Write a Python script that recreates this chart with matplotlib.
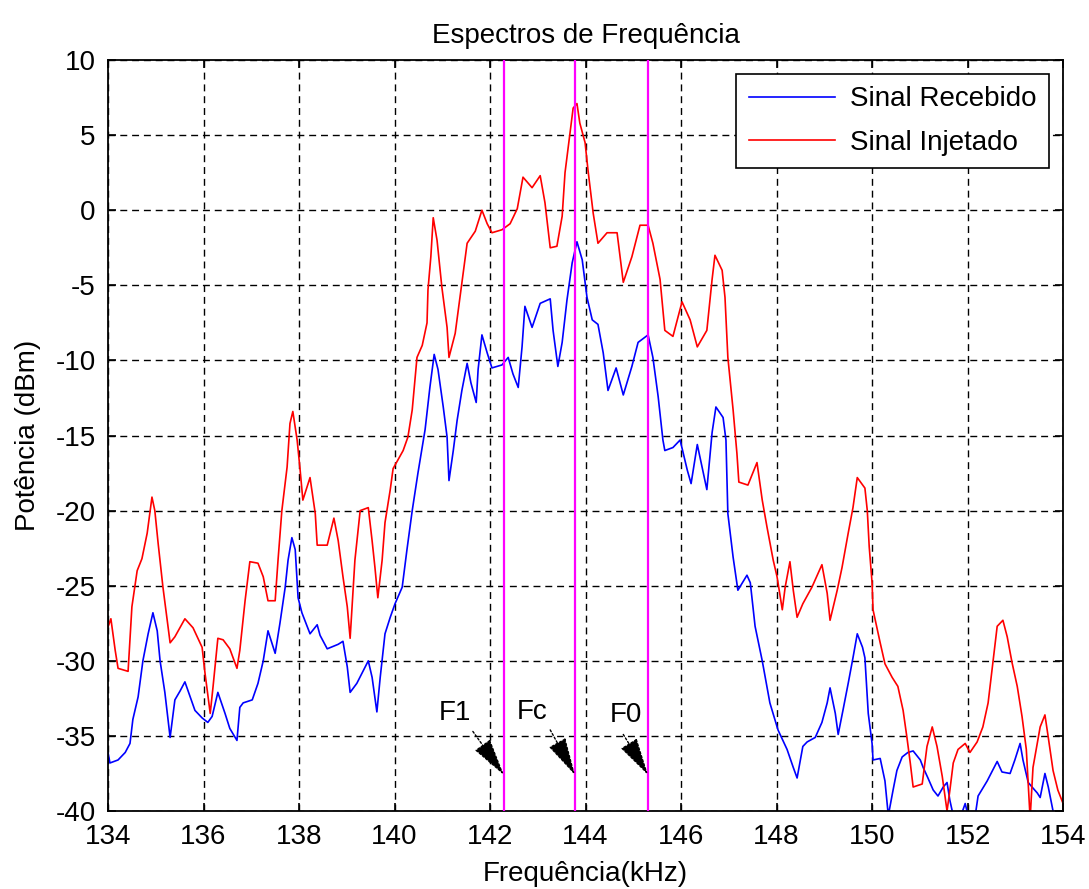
import matplotlib
matplotlib.use("Agg")
import matplotlib.pyplot as plt

plt.rcParams['font.family'] = ['Liberation Sans', 'DejaVu Sans']
plt.rcParams['axes.unicode_minus'] = False

# Received signal spectrum (kHz, dBm)
freq_rx = [134.00, 134.04, 134.21, 134.36, 134.46, 134.52, 134.63, 134.73, 134.84, 134.94,
           135.03, 135.09, 135.19, 135.30, 135.40, 135.51, 135.61, 135.72, 135.82, 135.97,
           136.09, 136.18, 136.30, 136.45, 136.55, 136.70, 136.76, 136.83, 137.02, 137.14,
           137.25, 137.35, 137.43, 137.50, 137.60, 137.71, 137.77, 137.85, 137.92, 137.98,
           138.06, 138.23, 138.38, 138.44, 138.59, 138.82, 138.92, 139.01, 139.07, 139.21,
           139.45, 139.53, 139.63, 139.70, 139.80, 139.91, 140.01, 140.16, 140.26, 140.37,
           140.49, 140.64, 140.74, 140.83, 140.91, 141.02, 141.10, 141.14, 141.23, 141.31,
           141.41, 141.52, 141.60, 141.71, 141.75, 141.83, 141.94, 142.04, 142.25, 142.38,
           142.48, 142.59, 142.67, 142.73, 142.88, 143.05, 143.26, 143.32, 143.42, 143.51,
           143.61, 143.72, 143.82, 143.93, 144.03, 144.14, 144.26, 144.37, 144.47, 144.64,
           144.79, 144.97, 145.10, 145.31, 145.41, 145.52, 145.62, 145.66, 145.83, 145.98,
           146.13, 146.21, 146.34, 146.44, 146.54, 146.65, 146.73, 146.88, 146.94, 146.98,
           147.09, 147.19, 147.38, 147.45, 147.55, 147.70, 147.86, 148.03, 148.22, 148.35,
           148.43, 148.55, 148.64, 148.81, 148.95, 149.06, 149.12, 149.23, 149.29, 149.39,
           149.50, 149.60, 149.69, 149.80, 149.85, 149.92, 150.00, 150.02, 150.17, 150.27,
           150.34, 150.44, 150.52, 150.63, 150.75, 150.86, 151.01, 151.07, 151.17, 151.28,
           151.38, 151.49, 151.57, 151.63, 151.70, 151.84, 151.95, 152.01, 152.16, 152.22,
           152.41, 152.62, 152.72, 152.89, 152.99, 153.10, 153.16, 153.27, 153.35, 153.46,
           153.52, 153.62, 153.69, 153.79, 154.00]
power_rx = [-36.1, -36.8, -36.6, -36.1, -35.5, -33.9, -32.4, -30.0, -28.2, -26.8,
            -28.0, -30.0, -32.1, -35.1, -32.6, -32.0, -31.4, -32.4, -33.3, -33.8,
            -34.1, -33.7, -32.1, -33.5, -34.5, -35.3, -33.1, -32.8, -32.6, -31.5,
            -30.0, -28.0, -28.8, -29.5, -27.5, -25.1, -23.3, -21.8, -22.6, -25.8,
            -26.8, -28.2, -27.6, -28.3, -29.2, -28.9, -28.7, -30.4, -32.1, -31.5,
            -30.0, -31.1, -33.4, -31.1, -28.2, -27.1, -26.2, -25.1, -22.6, -20.0,
            -17.5, -14.6, -11.8, -9.6, -10.6, -13.1, -15.1, -18.0, -16.0, -14.0,
            -12.0, -10.2, -11.5, -12.8, -10.6, -8.3, -9.5, -10.5, -10.3, -9.8,
            -10.9, -11.8, -9.1, -6.4, -7.8, -6.2, -5.9, -8.0, -10.4, -8.8,
            -6.0, -3.5, -2.1, -3.3, -5.8, -7.3, -7.6, -9.5, -12.0, -10.5,
            -12.3, -10.4, -8.8, -8.3, -9.8, -12.4, -15.3, -16.0, -15.8, -15.3,
            -17.3, -18.2, -15.6, -17.1, -18.6, -14.8, -13.1, -13.8, -15.3, -20.2,
            -23.1, -25.3, -24.3, -24.8, -27.7, -30.0, -32.8, -34.6, -35.9, -37.1,
            -37.8, -35.7, -35.4, -35.1, -34.1, -32.8, -31.8, -33.5, -34.9, -33.3,
            -31.5, -29.8, -28.2, -29.1, -29.8, -33.5, -35.5, -36.6, -36.5, -38.0,
            -40.3, -38.6, -37.3, -36.4, -36.1, -36.0, -36.6, -37.1, -37.8, -38.6,
            -39.0, -38.4, -38.1, -39.3, -40.3, -40.5, -39.5, -40.3, -40.3, -39.0,
            -38.0, -36.7, -37.4, -37.5, -36.6, -35.5, -36.6, -38.1, -38.4, -38.8,
            -39.1, -37.5, -38.4, -40.0, -40.2]

# Injected signal spectrum (kHz, dBm)
freq_tx = [134.00, 134.06, 134.15, 134.21, 134.42, 134.50, 134.61, 134.71, 134.82, 134.92,
           134.98, 135.05, 135.15, 135.24, 135.30, 135.40, 135.61, 135.78, 135.97, 136.03,
           136.14, 136.20, 136.30, 136.41, 136.55, 136.70, 136.76, 136.87, 136.97, 137.14,
           137.25, 137.35, 137.50, 137.56, 137.64, 137.75, 137.81, 137.87, 137.96, 138.02,
           138.08, 138.23, 138.34, 138.38, 138.59, 138.73, 138.82, 138.92, 139.01, 139.07,
           139.17, 139.28, 139.45, 139.53, 139.59, 139.65, 139.74, 139.80, 139.91, 139.97,
           140.18, 140.28, 140.37, 140.47, 140.58, 140.68, 140.70, 140.76, 140.81, 140.89,
           140.99, 141.10, 141.14, 141.27, 141.37, 141.52, 141.69, 141.83, 141.94, 142.04,
           142.25, 142.42, 142.57, 142.69, 142.88, 143.05, 143.15, 143.26, 143.40, 143.51,
           143.57, 143.68, 143.74, 143.82, 143.88, 143.99, 144.05, 144.16, 144.26, 144.45,
           144.66, 144.76, 144.79, 144.97, 145.14, 145.31, 145.41, 145.56, 145.66, 145.83,
           146.02, 146.19, 146.34, 146.54, 146.65, 146.71, 146.86, 146.92, 146.98, 147.09,
           147.17, 147.21, 147.40, 147.59, 147.70, 147.80, 147.93, 148.01, 148.12, 148.18,
           148.28, 148.35, 148.43, 148.55, 148.74, 148.95, 149.06, 149.12, 149.27, 149.37,
           149.50, 149.60, 149.69, 149.85, 149.90, 149.94, 150.00, 150.02, 150.17, 150.27,
           150.42, 150.54, 150.65, 150.73, 150.80, 150.86, 151.05, 151.15, 151.26, 151.36,
           151.47, 151.57, 151.63, 151.70, 151.80, 151.95, 152.05, 152.20, 152.32, 152.43,
           152.53, 152.62, 152.74, 152.83, 152.93, 153.04, 153.14, 153.23, 153.31, 153.37,
           153.52, 153.62, 153.69, 153.79, 153.89, 154.00]
power_tx = [-27.75, -27.2, -29.3, -30.5, -30.7, -26.4, -24.0, -23.2, -21.5, -19.1,
            -20.0, -22.2, -25.1, -27.3, -28.8, -28.4, -27.2, -27.8, -29.1, -30.8,
            -33.5, -31.7, -28.5, -28.6, -29.2, -30.5, -29.3, -26.0, -23.4, -23.5,
            -24.4, -26.0, -26.0, -23.3, -20.0, -17.1, -14.2, -13.4, -15.3, -17.2,
            -19.3, -17.8, -20.2, -22.3, -22.3, -20.5, -22.0, -24.4, -26.4, -28.5,
            -23.3, -20.0, -19.8, -22.0, -23.8, -25.8, -23.3, -20.8, -18.6, -17.2,
            -16.0, -15.1, -13.3, -9.8, -9.0, -7.5, -5.3, -3.1, -0.5, -2.0,
            -5.1, -7.8, -9.8, -8.2, -5.8, -2.2, -1.4, 0.0, -0.9, -1.5,
            -1.3, -0.9, 0.1, 2.2, 1.5, 2.3, 0.5, -2.5, -2.4, -0.4,
            2.5, 5.3, 6.8, 7.1, 5.8, 4.5, 2.7, -0.2, -2.2, -1.5,
            -1.5, -4.0, -4.8, -3.1, -1.0, -1.0, -2.2, -4.6, -8.0, -8.4,
            -6.1, -7.3, -9.1, -8.0, -4.6, -3.0, -4.0, -5.8, -9.8, -13.3,
            -16.2, -18.1, -18.3, -16.8, -19.3, -21.1, -23.3, -24.4, -26.6, -25.1,
            -23.4, -25.3, -27.1, -26.2, -25.1, -23.6, -25.5, -27.3, -25.3, -23.8,
            -21.5, -19.8, -17.8, -18.5, -20.0, -22.4, -24.8, -26.6, -28.8, -30.2,
            -31.1, -31.7, -33.3, -35.1, -36.8, -38.4, -38.2, -35.7, -34.4, -35.7,
            -37.7, -40.0, -38.6, -36.8, -35.9, -35.5, -36.1, -35.4, -34.4, -32.8,
            -30.1, -27.7, -27.3, -28.4, -30.1, -31.7, -33.7, -35.9, -40.5, -37.1,
            -34.4, -33.6, -35.1, -37.3, -38.6, -39.5]

# Marker frequencies (kHz), labels, label positions and arrow tails
marker_freqs = [142.29, 143.78, 145.31]
marker_labels = ['F1', 'Fc', 'F0']
label_x = [141.27, 142.88, 144.85]
label_y = [-33.5, -33.4, -33.6]
tail_x = [141.64, 143.26, 144.79]
tail_y = [-34.7, -34.6, -34.9]
tip_y = -37.6

series_labels = ['Sinal Recebido', 'Sinal Injetado']
x_ticks = list(range(134, 155, 2))
y_ticks = list(range(-40, 11, 5))

FS = 20

fig = plt.figure(figsize=(10.89, 8.89), dpi=100, facecolor='white')
ax = fig.add_axes([0.0992, 0.0877, 0.8770, 0.8448])

ax.plot(freq_rx, power_rx, color='#0000ff', lw=1.2, label=series_labels[0])
ax.plot(freq_tx, power_tx, color='#ff0000', lw=1.2, label=series_labels[1])

for f in marker_freqs:
    ax.axvline(f, color='#ff00ff', lw=1.6, zorder=3)

# Text labels and dotted arrows pointing at each marker line
for f, lab, lx, ly, tx, ty in zip(marker_freqs, marker_labels, label_x, label_y, tail_x, tail_y):
    ax.text(lx, ly, lab, fontsize=FS, ha='center', va='center')
    ax.annotate('', xy=(f, tip_y), xytext=(tx, ty),
                arrowprops=dict(arrowstyle='-|>,head_length=0.6,head_width=0.15',
                                color='black', lw=1.0,
                                linestyle=(0, (1.5, 1.5)), mutation_scale=40,
                                shrinkA=0, shrinkB=0), zorder=4)

ax.set_xlim(134, 154)
ax.set_ylim(-40, 10)
ax.set_xticks(x_ticks)
ax.set_yticks(y_ticks)
ax.tick_params(direction='in', length=6, width=1.2, top=True, right=True,
               labelsize=FS, pad=9, colors='black')
ax.grid(True, color='black', lw=1.0, linestyle=(0, (5, 3.5)))
for s in ax.spines.values():
    s.set_linewidth(1.3)
    s.set_color('black')

ax.set_title('Espectros de Frequência', fontsize=FS, pad=12)
ax.set_xlabel('Frequência(kHz)', fontsize=FS, labelpad=8)
ax.set_ylabel('Potência (dBm)', fontsize=FS, labelpad=10)

leg = ax.legend(loc='upper right', fontsize=FS, fancybox=False, framealpha=1,
                edgecolor='black', handlelength=3.1, handletextpad=0.55,
                borderaxespad=0.5, borderpad=0.45, labelspacing=0.62)
leg.get_frame().set_linewidth(1.2)

fig.savefig('out.png', dpi=100, facecolor='white')
